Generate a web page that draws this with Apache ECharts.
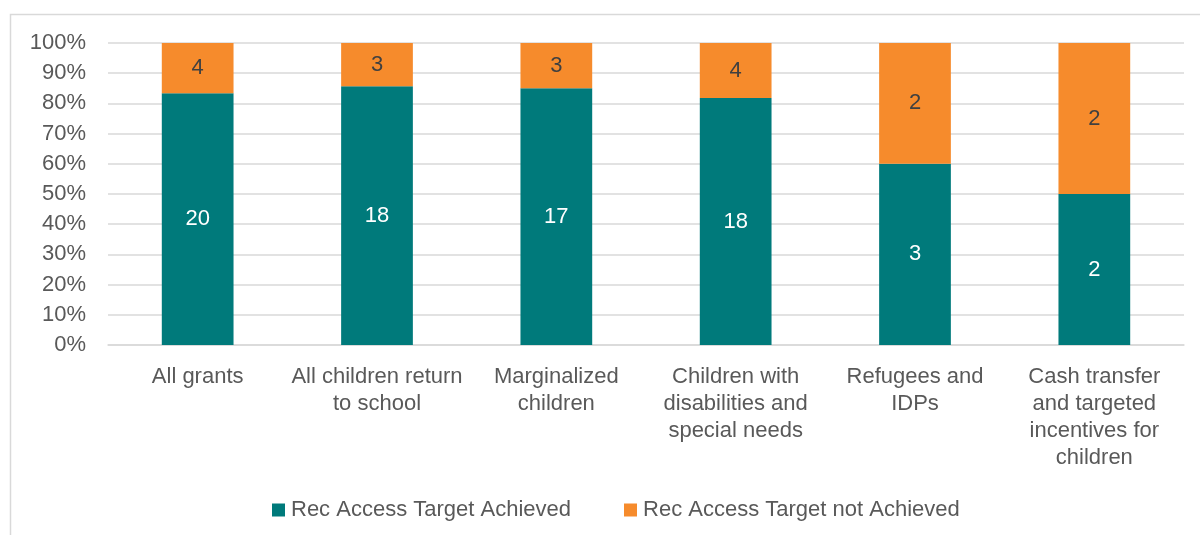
<!DOCTYPE html>
<html>
<head>
<meta charset="utf-8">
<script src="https://cdn.jsdelivr.net/npm/echarts@6/dist/echarts.min.js"></script>
<style>
html,body{margin:0;padding:0;background:#fff;}
#chart{width:1200px;height:535px;}
</style>
</head>
<body>
<div id="chart"></div>
<script>
var categories = ["All grants", "All children return\nto school", "Marginalized\nchildren", "Children with\ndisabilities and\nspecial needs", "Refugees and\nIDPs", "Cash transfer\nand targeted\nincentives for\nchildren"];
var achieved = [20, 18, 17, 18, 3, 2];
var notAchieved = [4, 3, 3, 4, 2, 2];
var seriesNames = ["Rec Access Target Achieved", "Rec Access Target not Achieved"];
var yTicks = [0, 10, 20, 30, 40, 50, 60, 70, 80, 90, 100];

var totals = achieved.map(function(v, i){ return v + notAchieved[i]; });
function pct(arr){ return arr.map(function(v, i){ return { value: v / totals[i] * 100, count: v }; }); }

var FONT = "'Liberation Sans', Arial, sans-serif";
var chart = echarts.init(document.getElementById('chart'), null, {renderer: 'canvas'});
chart.setOption({
  animation: false,
  textStyle: { fontFamily: FONT },
  graphic: [{
    type: 'rect', silent: true,
    shape: { x: 10.5, y: 14.5, width: 1220, height: 600 },
    style: { fill: null, stroke: '#d9d9d9', lineWidth: 1.5 }
  }],
  grid: { left: 108, right: 16, top: 43, bottom: 190, containLabel: false },
  legend: {
    bottom: 9, left: 267,
    itemWidth: 13, itemHeight: 13, itemGap: 53,
    icon: 'rect',
    textStyle: { fontSize: 22, color: '#595959', fontFamily: FONT, padding: [0, 0, 0, 1] },
    data: seriesNames
  },
  xAxis: {
    type: 'category', data: categories,
    axisLine: { show: true, lineStyle: { color: '#d9d9d9', width: 1.5 } },
    axisTick: { show: false },
    axisLabel: { interval: 0, color: '#595959', fontSize: 22, lineHeight: 27, margin: 18, fontFamily: FONT }
  },
  yAxis: {
    type: 'value', min: 0, max: 100, interval: 10,
    axisLine: { show: false }, axisTick: { show: false },
    splitLine: { lineStyle: { color: '#d9d9d9', width: 1.5 } },
    axisLabel: { color: '#595959', fontSize: 22, margin: 22, fontFamily: FONT,
      formatter: function(v){ return yTicks.indexOf(v) >= 0 ? v + '%' : ''; } }
  },
  series: [{
    name: seriesNames[0], type: 'bar', stack: 'total', barCategoryGap: '60%',
    itemStyle: { color: '#007a7b' },
    label: { show: true, position: 'inside', color: '#ffffff', fontSize: 22, fontFamily: FONT,
      formatter: function(p){ return p.data.count; } },
    data: pct(achieved)
  }, {
    name: seriesNames[1], type: 'bar', stack: 'total', barCategoryGap: '60%',
    itemStyle: { color: '#f68b2c' },
    label: { show: true, position: 'inside', color: '#404040', fontSize: 22, fontFamily: FONT,
      formatter: function(p){ return p.data.count; } },
    data: pct(notAchieved)
  }]
});
</script>
</body>
</html>
